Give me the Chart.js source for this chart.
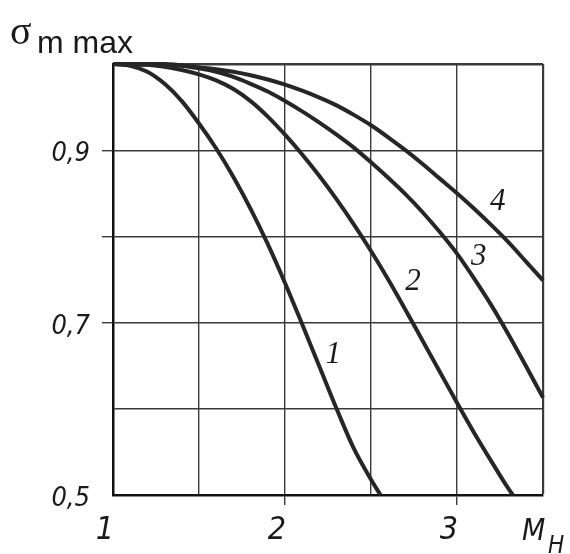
<!DOCTYPE html>
<html>
<head>
<meta charset="utf-8">
<script src="https://cdn.jsdelivr.net/npm/chart.js@4/dist/chart.umd.min.js"></script>
<style>
html,body{margin:0;padding:0;background:#fff;}
canvas{display:block;}
</style>
</head>
<body>
<canvas id="c" width="570" height="554"></canvas>
<script>
// ---- data ----
const curve1X = [1.0, 1.1, 1.2, 1.3, 1.4, 1.5, 1.6, 1.7, 1.8, 1.9, 2.0, 2.1, 2.2, 2.3, 2.4, 2.5, 2.555];
const curve1Y = [1.0, 0.998, 0.991, 0.977, 0.957, 0.931, 0.902, 0.869, 0.832, 0.791, 0.746, 0.698, 0.649, 0.600, 0.554, 0.518, 0.500];
const curve2X = [1.0, 1.2, 1.4, 1.5, 1.6, 1.7, 1.8, 1.9, 2.0, 2.1, 2.2, 2.3, 2.4, 2.5, 2.6, 2.7, 2.8, 2.9, 3.0, 3.1, 3.2, 3.3, 3.325];
const curve2Y = [1.0, 0.999, 0.993, 0.988, 0.981, 0.971, 0.957, 0.939, 0.918, 0.895, 0.870, 0.843, 0.814, 0.783, 0.750, 0.715, 0.679, 0.643, 0.607, 0.572, 0.539, 0.507, 0.500];
const curve3X = [1.0, 1.3, 1.4, 1.5, 1.6, 1.7, 1.8, 1.9, 2.0, 2.1, 2.2, 2.3, 2.4, 2.5, 2.6, 2.7, 2.8, 2.9, 3.0, 3.1, 3.2, 3.3, 3.4, 3.5];
const curve3Y = [1.0, 0.999, 0.998, 0.995, 0.991, 0.985, 0.977, 0.968, 0.957, 0.945, 0.932, 0.918, 0.903, 0.886, 0.868, 0.849, 0.828, 0.805, 0.780, 0.751, 0.720, 0.686, 0.650, 0.613];
const curve4X = [1.0, 1.3, 1.5, 1.6, 1.7, 1.8, 1.9, 2.0, 2.1, 2.2, 2.3, 2.4, 2.5, 2.6, 2.7, 2.8, 2.9, 3.0, 3.1, 3.2, 3.3, 3.4, 3.5];
const curve4Y = [1.0, 1.0, 0.996, 0.994, 0.991, 0.987, 0.982, 0.976, 0.969, 0.961, 0.952, 0.941, 0.929, 0.915, 0.900, 0.884, 0.867, 0.850, 0.832, 0.813, 0.793, 0.771, 0.749];
const curveNames = ['1', '2', '3', '4'];
// label anchor positions in data units
const labelX = [2.28, 2.744, 3.126, 3.237];
const labelY = [0.663, 0.747, 0.776, 0.840];
const xTickLabels = {1: '1', 2: '2', 3: '3'};
const yTickLabels = {5: '0,5', 7: '0,7', 9: '0,9'};
const yTitleMain = 'σ';
const yTitleSub = 'm max';
const xTitleMain = 'M';
const xTitleSub = 'H';

const toPts = (xs, ys) => xs.map((x, i) => ({x: x, y: ys[i]}));
const INK = '#262626';
const GRID = '#3a3a3a';

const makeDs = (name, xs, ys) => ({
  label: name,
  data: toPts(xs, ys),
  borderColor: INK,
  borderWidth: 4,
  pointRadius: 0,
  fill: false,
  cubicInterpolationMode: 'monotone',
  clip: false
});

const annot = {
  id: 'annot',
  afterDraw(chart) {
    const ctx = chart.ctx;
    const xs = chart.scales.x, ys = chart.scales.y;
    ctx.save();
    ctx.fillStyle = '#1a1a1a';
    // curve numbers
    ctx.font = 'italic 31px "Liberation Serif", serif';
    ctx.textAlign = 'center';
    ctx.textBaseline = 'middle';
    curveNames.forEach((n, i) => {
      ctx.fillText(n, xs.getPixelForValue(labelX[i]), ys.getPixelForValue(labelY[i]));
    });
    // y title
    ctx.textAlign = 'left';
    ctx.textBaseline = 'alphabetic';
    ctx.font = '40px "Liberation Serif", serif';
    ctx.fillText(yTitleMain, 10, 44);
    ctx.font = '32px "Liberation Sans", Arial, sans-serif';
    ctx.fillText(yTitleSub, 37, 53);
    // x title
    const xr = xs.right;
    ctx.font = 'italic 30px "DejaVu Sans Condensed", "DejaVu Sans", sans-serif';
    ctx.fillText(xTitleMain, xr - 21, 540);
    ctx.font = 'italic 24px "DejaVu Sans Condensed", "DejaVu Sans", sans-serif';
    ctx.fillText(xTitleSub, xr + 5, 553);
    ctx.restore();
  }
};

const bg = {
  id: 'bg',
  beforeDraw(chart) {
    const ctx = chart.ctx;
    ctx.save();
    ctx.fillStyle = '#fff';
    ctx.fillRect(0, 0, chart.width, chart.height);
    ctx.restore();
  }
};

new Chart(document.getElementById('c'), {
  type: 'line',
  data: {
    datasets: [
      makeDs('1', curve1X, curve1Y),
      makeDs('2', curve2X, curve2Y),
      makeDs('3', curve3X, curve3Y),
      makeDs('4', curve4X, curve4Y)
    ]
  },
  options: {
    responsive: false,
    animation: false,
    devicePixelRatio: 1,
    layout: {padding: {left: 0, right: 27, top: 64, bottom: 0}},
    plugins: {legend: {display: false}, tooltip: {enabled: false}, title: {display: false}},
    scales: {
      x: {
        type: 'linear',
        min: 1, max: 3.5,
        afterFit(s) { s.height = 59; },
        border: {display: true, color: '#111', width: 2.5},
        grid: {
          color: GRID,
          lineWidth: (c) => (c.tick && Math.abs(c.tick.value - 3.5) < 1e-6) ? 2.2 : 1.4,
          drawTicks: true,
          tickLength: 10,
          tickColor: (c) => (c.tick && (Math.abs(c.tick.value - 2) < 1e-6 || Math.abs(c.tick.value - 3) < 1e-6)) ? GRID : 'rgba(0,0,0,0)',
          tickWidth: 1.4
        },
        ticks: {
          stepSize: 0.5,
          autoSkip: false,
          maxRotation: 0,
          padding: 6,
          labelOffset: -8,
          color: '#1a1a1a',
          font: {family: '"DejaVu Sans Condensed", "DejaVu Sans", sans-serif', size: 32, style: 'italic'},
          callback: (v) => {
            const r = Math.round(v * 2) / 2;
            return (Number.isInteger(r) && xTickLabels[r]) ? xTickLabels[r] : '';
          }
        }
      },
      y: {
        type: 'linear',
        min: 0.5, max: 1.0,
        afterFit(s) { s.width = 113; },
        border: {display: true, color: '#111', width: 2.5},
        grid: {
          color: GRID,
          lineWidth: (c) => (c.tick && Math.abs(c.tick.value - 1.0) < 1e-6) ? 2.5 : 1.4,
          drawTicks: true,
          tickLength: 11,
          tickColor: (c) => {
            if (!c.tick) return 'rgba(0,0,0,0)';
            const k = Math.round(c.tick.value * 10);
            return (k === 7 || k === 8 || k === 9) ? GRID : 'rgba(0,0,0,0)';
          },
          tickWidth: 1.4
        },
        ticks: {
          stepSize: 0.1,
          padding: 12,
          labelOffset: 4,
          color: '#1a1a1a',
          font: {family: '"DejaVu Sans Condensed", "DejaVu Sans", sans-serif', size: 27, style: 'italic'},
          callback: (v) => yTickLabels[Math.round(v * 10)] || ''
        }
      }
    }
  },
  plugins: [bg, annot]
});
</script>
</body>
</html>
